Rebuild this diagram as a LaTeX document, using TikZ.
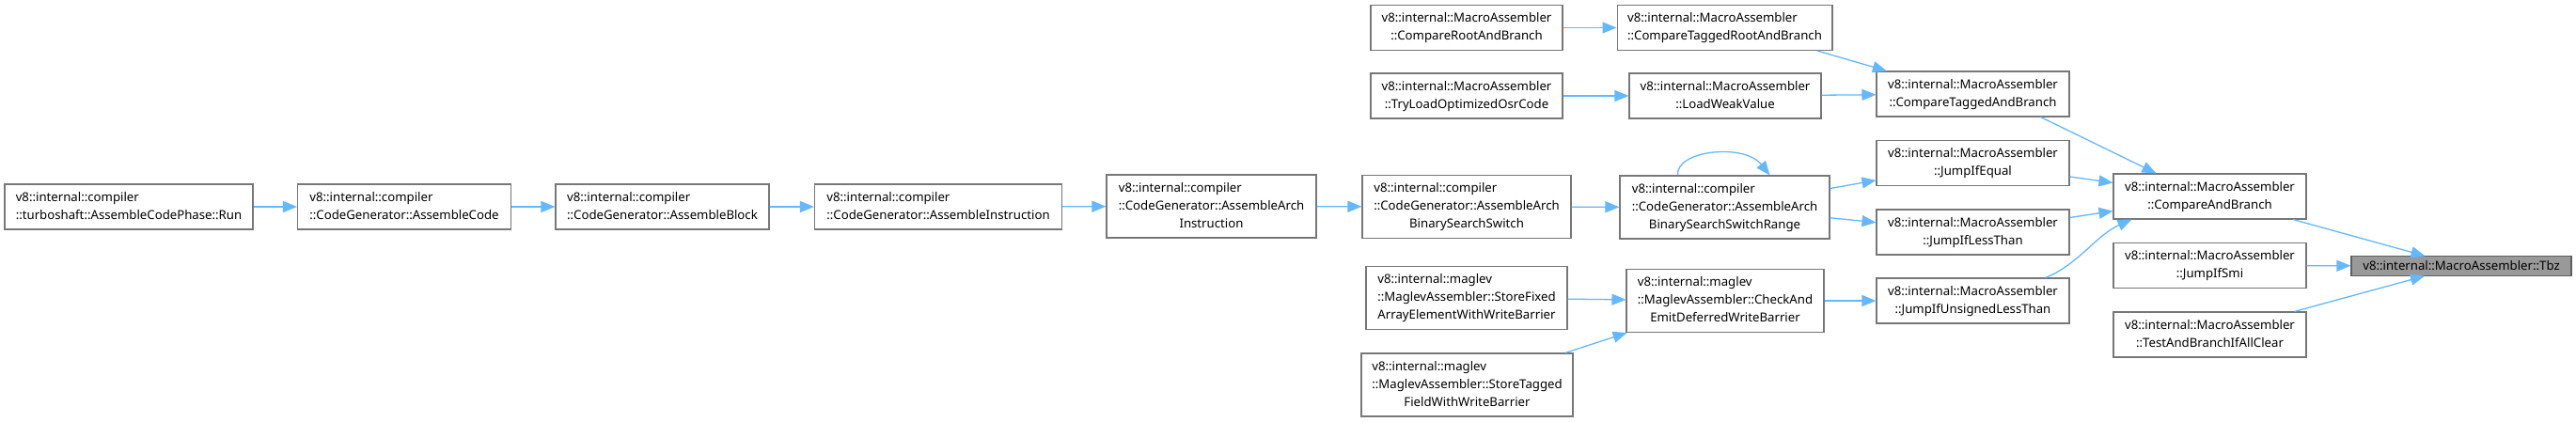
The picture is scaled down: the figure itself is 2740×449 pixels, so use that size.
\documentclass[tikz,border=0pt]{standalone}
\usepackage{fontspec}
\setmainfont{Noto Sans}
\usetikzlibrary{arrows.meta}

\definecolor{callblue}{HTML}{63B8FF}
\definecolor{boxgray}{HTML}{777777}
\definecolor{hlgray}{HTML}{999999}

% label: first lines left, last line centred
\newcommand{\lbl}[2]{\begin{tabular}{@{}l@{}}#1\\\multicolumn{1}{@{}c@{}}{#2}\end{tabular}}

\begin{document}
\begin{tikzpicture}[x=1pt, y=-1pt,
  box/.style={draw=boxgray, line width=1.1pt, fill=white, rectangle,
    inner xsep=11pt, inner ysep=5pt, font=\fontsize{13.2}{19}\selectfont},
  hlbox/.style={box, fill=hlgray},
  calls/.style={draw=callblue, line width=1.3pt, -{Triangle[length=15pt,width=12pt]}}]

  \useasboundingbox (0,0) rectangle (2740,449);

  % compiler chain
  \node[box, minimum width=264pt] (run) at (137,220) {\lbl{v8::internal::compiler}{::turboshaft::AssembleCodePhase::Run}};
  \node[box, minimum width=227pt] (asmcode) at (430,220) {\lbl{v8::internal::compiler}{::CodeGenerator::AssembleCode}};
  \node[box, minimum width=227pt] (asmblock) at (704.5,220) {\lbl{v8::internal::compiler}{::CodeGenerator::AssembleBlock}};
  \node[box, minimum width=263pt] (asminstr) at (998,220) {\lbl{v8::internal::compiler}{::CodeGenerator::AssembleInstruction}};
  \node[box, minimum width=223pt] (archinstr) at (1288.5,219.5) {\lbl{v8::internal::compiler\\::CodeGenerator::AssembleArch}{Instruction}};
  \node[box, minimum width=222pt] (bsswitch) at (1560,220) {\lbl{v8::internal::compiler\\::CodeGenerator::AssembleArch}{BinarySearchSwitch}};
  \node[box, minimum width=223pt] (bsrange) at (1834.5,220.5) {\lbl{v8::internal::compiler\\::CodeGenerator::AssembleArch}{BinarySearchSwitchRange}};

  % macro assembler, upper part
  \node[box, minimum width=204pt] (cmprootbr) at (1560,29.5) {\lbl{v8::internal::MacroAssembler}{::CompareRootAndBranch}};
  \node[box, minimum width=227pt] (cmptagroot) at (1834.5,29.5) {\lbl{v8::internal::MacroAssembler}{::CompareTaggedRootAndBranch}};
  \node[box, minimum width=204pt] (tryload) at (1560,102) {\lbl{v8::internal::MacroAssembler}{::TryLoadOptimizedOsrCode}};
  \node[box, minimum width=204pt] (loadweak) at (1835,102) {\lbl{v8::internal::MacroAssembler}{::LoadWeakValue}};
  \node[box, minimum width=205pt] (cmptagbr) at (2098.5,100) {\lbl{v8::internal::MacroAssembler}{::CompareTaggedAndBranch}};
  \node[box, minimum width=205pt] (jeq) at (2098.5,173.5) {\lbl{v8::internal::MacroAssembler}{::JumpIfEqual}};
  \node[box, minimum width=205pt] (jlt) at (2098.5,247) {\lbl{v8::internal::MacroAssembler}{::JumpIfLessThan}};
  \node[box, minimum width=205pt] (jult) at (2098.5,320) {\lbl{v8::internal::MacroAssembler}{::JumpIfUnsignedLessThan}};

  % maglev
  \node[box, minimum width=214pt] (storefixed) at (1560,317) {\lbl{v8::internal::maglev\\::MaglevAssembler::StoreFixed}{ArrayElementWithWriteBarrier}};
  \node[box, minimum width=225pt] (storetagged) at (1560.5,409.5) {\lbl{v8::internal::maglev\\::MaglevAssembler::StoreTagged}{FieldWithWriteBarrier}};
  \node[box, minimum width=210pt] (checkemit) at (1835,320) {\lbl{v8::internal::maglev\\::MaglevAssembler::CheckAnd}{EmitDeferredWriteBarrier}};

  % last column
  \node[box, minimum width=205pt] (cmpbr) at (2350.5,209) {\lbl{v8::internal::MacroAssembler}{::CompareAndBranch}};
  \node[box, minimum width=205pt] (jsmi) at (2350.5,282.5) {\lbl{v8::internal::MacroAssembler}{::JumpIfSmi}};
  \node[box, minimum width=205pt] (testbr) at (2350.5,356) {\lbl{v8::internal::MacroAssembler}{::TestAndBranchIfAllClear}};
  \node[hlbox, draw=boxgray!80!black, minimum width=234pt] (tbz) at (2618,283) {v8::internal::MacroAssembler::Tbz};

  % calls
  \draw[calls] (run) -- (asmcode);
  \draw[calls] (asmcode) -- (asmblock);
  \draw[calls] (asmblock) -- (asminstr);
  \draw[calls] (asminstr) -- (archinstr);
  \draw[calls] (archinstr) -- (bsswitch);
  \draw[calls] (bsswitch) -- (bsrange);
  \draw[calls] ([xshift=-50pt]bsrange.north) .. controls (1782,160) and (1855,152) .. ([xshift=48pt]bsrange.north);
  \draw[calls] (bsrange) -- (jeq);
  \draw[calls] (bsrange) -- (jlt);

  \draw[calls] (cmprootbr) -- (cmptagroot);
  \draw[calls] (cmptagroot.-14.5) -- (cmptagbr.165.6);
  \draw[calls] (tryload) -- (loadweak);
  \draw[calls] (loadweak) -- (cmptagbr);

  \draw[calls] (storefixed) -- (checkemit);
  \draw[calls] (storetagged) -- (checkemit);
  \draw[calls] (checkemit) -- (jult);

  \draw[calls] ([xshift=-31pt]cmptagbr.south east) -- ([xshift=46pt]cmpbr.north west);
  \draw[calls] (jeq) -- (cmpbr);
  \draw[calls] (jlt) -- (cmpbr);
  \draw[calls] ([xshift=-26pt]jult.north east) .. controls (2210,282) and (2230,250) .. ([xshift=20pt]cmpbr.south west);

  \draw[calls] (cmpbr) -- (tbz);
  \draw[calls] (jsmi) -- (tbz);
  \draw[calls] (testbr) -- (tbz);

\end{tikzpicture}
\end{document}
